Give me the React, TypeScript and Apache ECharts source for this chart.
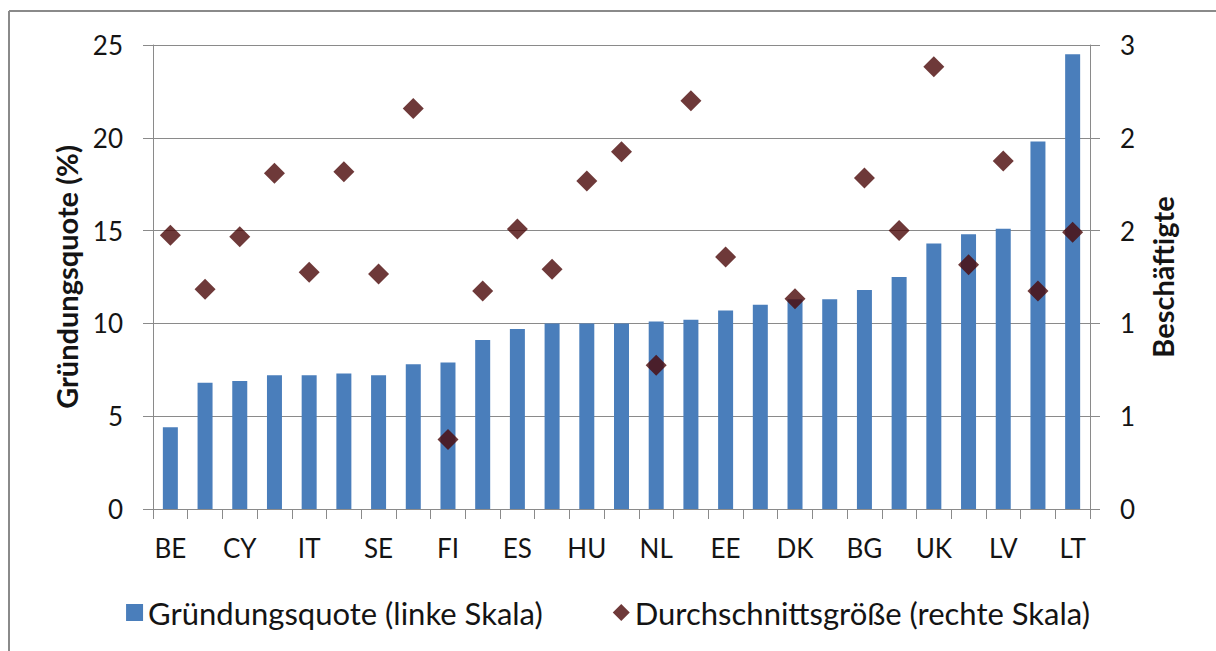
import React, { useEffect, useRef } from "react";
import * as echarts from "echarts";

const categories = ["BE","AT","CY","DE","IT","SI","SE","CZ","FI","IE","ES","LU","HU","PL","NL","FR","EE","EL","DK","HR","BG","SK","UK","RO","LV","PT","LT"];
const foundingRate = [4.4, 6.8, 6.9, 7.2, 7.2, 7.3, 7.2, 7.8, 7.9, 9.1, 9.7, 10.0, 10.0, 10.0, 10.1, 10.2, 10.7, 11.0, 11.3, 11.3, 11.8, 12.5, 14.3, 14.8, 15.1, 19.8, 24.5];
const avgSize = [1.77, 1.42, 1.76, 2.17, 1.53, 2.18, 1.52, 2.59, 0.45, 1.41, 1.81, 1.55, 2.12, 2.31, 0.93, 2.64, 1.63, null, 1.36, null, 2.14, 1.80, 2.86, 1.58, 2.25, 1.41, 1.79];
const barName = "Gründungsquote (linke Skala)";
const scatterName = "Durchschnittsgröße (rechte Skala)";
const leftAxisName = "Gründungsquote (%)";
const rightAxisName = "Beschäftigte";

const FONT = "Lato";
const GRAY = "#8a8a8a";
const TXT = "#141414";

export default function App() {
  const ref = useRef<HTMLDivElement>(null);
  useEffect(() => {
    document.body.style.margin = "0";
    const chart = echarts.init(ref.current!, null, { renderer: "svg" });
    chart.setOption({
      animation: false,
      backgroundColor: "#ffffff",
      textStyle: { fontFamily: FONT },
      grid: { left: 153, right: 126, top: 45, bottom: 142 },
      graphic: [
        { type: "line", shape: { x1: 9, y1: 11, x2: 1216, y2: 11 }, style: { stroke: GRAY, lineWidth: 2 } },
        { type: "line", shape: { x1: 9, y1: 11, x2: 9, y2: 651 }, style: { stroke: GRAY, lineWidth: 2 } },
      ],
      legend: {
        bottom: 18,
        left: "center",
        itemGap: 70,
        itemWidth: 17,
        itemHeight: 17,
        textStyle: { fontFamily: FONT, fontSize: 31, color: TXT },
        data: [
          { name: barName, icon: "rect" },
          { name: scatterName, icon: "diamond" },
        ],
      },
      xAxis: {
        type: "category",
        data: categories,
        axisLine: { lineStyle: { color: GRAY, width: 1 } },
        axisTick: { show: true, interval: 0, length: 10, lineStyle: { color: GRAY } },
        axisLabel: { interval: 1, fontSize: 26, color: TXT, margin: 26, fontFamily: FONT },
      },
      yAxis: [
        {
          type: "value",
          min: 0,
          max: 25,
          interval: 5,
          name: leftAxisName,
          nameLocation: "middle",
          nameGap: 72,
          nameTextStyle: { fontSize: 29, fontWeight: "bold", color: TXT, fontFamily: FONT },
          axisLine: { show: true, lineStyle: { color: GRAY } },
          axisTick: { show: true, length: 10, lineStyle: { color: GRAY } },
          axisLabel: { fontSize: 26, color: TXT, margin: 30, fontFamily: FONT },
          splitLine: { show: true, lineStyle: { color: GRAY, width: 1 } },
        },
        {
          type: "value",
          min: 0,
          max: 3,
          interval: 0.6,
          name: rightAxisName,
          nameLocation: "middle",
          nameGap: 58,
          nameTextStyle: { fontSize: 29, fontWeight: "bold", color: TXT, fontFamily: FONT },
          axisLine: { show: true, lineStyle: { color: GRAY } },
          axisTick: { show: true, length: 10, lineStyle: { color: GRAY } },
          axisLabel: { fontSize: 26, color: TXT, margin: 30, fontFamily: FONT, formatter: (v: number) => String(Math.round(v)) },
          splitLine: { show: false },
        },
      ],
      series: [
        {
          name: barName,
          type: "bar",
          yAxisIndex: 0,
          data: foundingRate,
          barWidth: 15,
          itemStyle: { color: "#4a7ebb" },
        },
        {
          name: scatterName,
          type: "scatter",
          yAxisIndex: 1,
          data: avgSize,
          symbol: "diamond",
          symbolSize: 21,
          itemStyle: { color: "#4a0808" },
        },
      ],
    });
    return () => chart.dispose();
  }, []);
  return <div ref={ref} style={{ width: 1216, height: 651 }} />;
}
